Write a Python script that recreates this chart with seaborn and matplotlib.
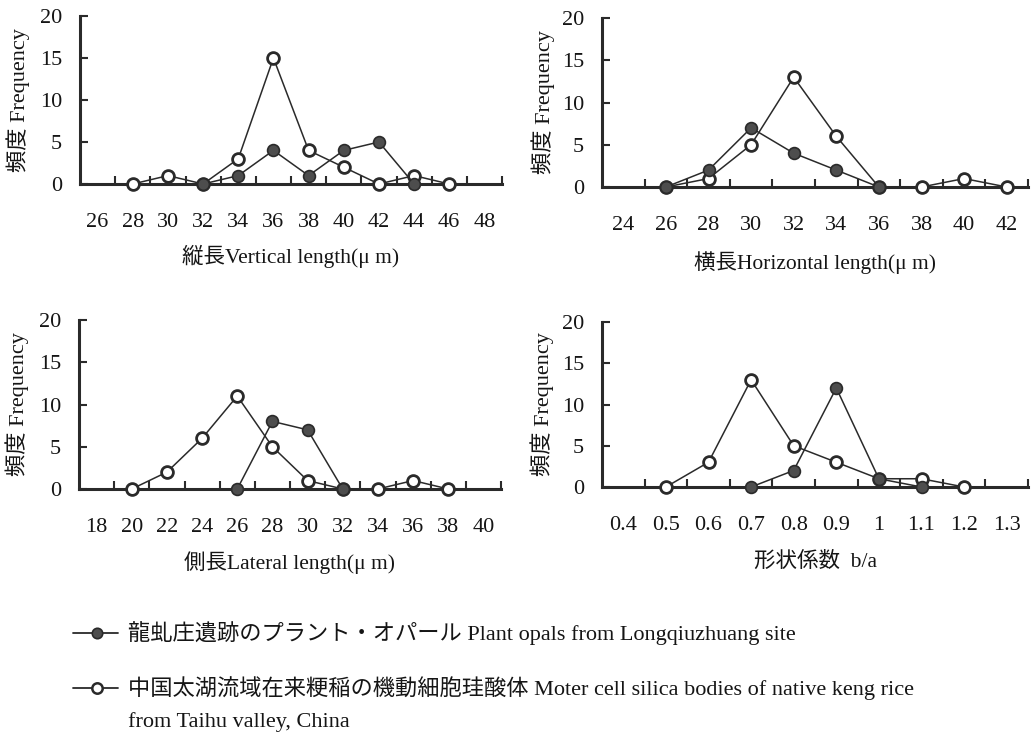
import matplotlib
matplotlib.use("Agg")
import matplotlib.pyplot as plt
import seaborn as sns
import pandas as pd
from matplotlib.lines import Line2D

# ---------------- data ----------------
# Panel 1: vertical length (um)
vert_cats = [26, 28, 30, 32, 34, 36, 38, 40, 42, 44, 46, 48]
vert_site_x = [32, 34, 36, 38, 40, 42, 44]
vert_site_y = [0, 1, 4, 1, 4, 5, 0]
vert_taihu_x = [28, 30, 32, 34, 36, 38, 40, 42, 44, 46]
vert_taihu_y = [0, 1, 0, 3, 15, 4, 2, 0, 1, 0]

# Panel 2: horizontal length (um)
horiz_cats = [24, 26, 28, 30, 32, 34, 36, 38, 40, 42]
horiz_site_x = [26, 28, 30, 32, 34, 36]
horiz_site_y = [0, 2, 7, 4, 2, 0]
horiz_taihu_x = [26, 28, 30, 32, 34, 36, 38, 40, 42]
horiz_taihu_y = [0, 1, 5, 13, 6, 0, 0, 1, 0]

# Panel 3: lateral length (um)
lat_cats = [18, 20, 22, 24, 26, 28, 30, 32, 34, 36, 38, 40]
lat_site_x = [26, 28, 30, 32]
lat_site_y = [0, 8, 7, 0]
lat_taihu_x = [20, 22, 24, 26, 28, 30, 32, 34, 36, 38]
lat_taihu_y = [0, 2, 6, 11, 5, 1, 0, 0, 1, 0]

# Panel 4: shape coefficient b/a
shape_cats = [0.4, 0.5, 0.6, 0.7, 0.8, 0.9, 1.0, 1.1, 1.2, 1.3]
shape_labels = ["0.4", "0.5", "0.6", "0.7", "0.8", "0.9", "1", "1.1", "1.2", "1.3"]
shape_site_x = [0.7, 0.8, 0.9, 1.0, 1.1]
shape_site_y = [0, 2, 12, 1, 0]
shape_taihu_x = [0.5, 0.6, 0.7, 0.8, 0.9, 1.0, 1.1, 1.2]
shape_taihu_y = [0, 3, 13, 5, 3, 1, 1, 0]

y_ticks = [0, 5, 10, 15, 20]

xlabels = ["縦長Vertical length(μ m)", "横長Horizontal length(μ m)",
           "側長Lateral length(μ m)", "形状係数  b/a"]
ylabel = "頻度 Frequency"
legend_site = "龍虬庄遺跡のプラント・オパール Plant opals from Longqiuzhuang site"
legend_taihu_1 = "中国太湖流域在来粳稲の機動細胞珪酸体 Moter cell silica bodies of native keng rice"
legend_taihu_2 = "from Taihu valley, China"

# ---------------- style ----------------
sns.set_style("white")
FAM = ["Liberation Serif", "Noto Sans CJK JP", "DejaVu Sans"]
plt.rcParams["font.family"] = FAM
plt.rcParams["axes.unicode_minus"] = False

W, H = 1035, 737
fig = plt.figure(figsize=(W / 100, H / 100), dpi=100)
fig.patch.set_facecolor("white")

INK = "#2a2a2a"
FILL = "#4d4d4d"
TXT = "#151515"
TICKFS = 16
LABFS = 15.5


def px_axes(left, right, top, bottom):
    return fig.add_axes([left / W, 1 - bottom / H, (right - left) / W, (bottom - top) / H])


panels = [
    # cats, labels, site_x, site_y, taihu_x, taihu_y, box(l,r,t,b), xlabel_y, ylabel_x
    (vert_cats, [str(c) for c in vert_cats], vert_site_x, vert_site_y, vert_taihu_x, vert_taihu_y,
     (80, 502, 16, 184), 256, 18),
    (horiz_cats, [str(c) for c in horiz_cats], horiz_site_x, horiz_site_y, horiz_taihu_x, horiz_taihu_y,
     (602, 1028, 18, 187), 263, 543),
    (lat_cats, [str(c) for c in lat_cats], lat_site_x, lat_site_y, lat_taihu_x, lat_taihu_y,
     (79, 501, 320, 489), 563, 17),
    (shape_cats, shape_labels, shape_site_x, shape_site_y, shape_taihu_x, shape_taihu_y,
     (602, 1028, 322, 487), 562, 542),
]

for i, (cats, labs, sx, sy, tx, ty, box, xl_y, yl_x) in enumerate(panels):
    l, r, t, b = box
    ax = px_axes(l, r, t, b)
    step = cats[1] - cats[0]

    df_t = pd.DataFrame({"x": tx, "y": ty})
    df_s = pd.DataFrame({"x": sx, "y": sy})
    sns.lineplot(data=df_t, x="x", y="y", ax=ax, color=INK, linewidth=1.1,
                 marker="o", markersize=8.5, markerfacecolor="white",
                 markeredgecolor=INK, markeredgewidth=2.0, clip_on=False, zorder=5)
    sns.lineplot(data=df_s, x="x", y="y", ax=ax, color=INK, linewidth=1.1,
                 marker="o", markersize=8.5, markerfacecolor=FILL,
                 markeredgecolor=INK, markeredgewidth=1.2, clip_on=False, zorder=6)

    ax.set_xlim(cats[0] - step / 2, cats[-1] + step / 2)
    ax.set_ylim(0, 20)
    ax.set_xticks(cats)
    ax.set_xticklabels(labs, fontsize=TICKFS)
    ax.set_xticks([c + step / 2 for c in cats], minor=True)
    ax.set_yticks(y_ticks)
    ax.set_yticklabels([str(v) for v in y_ticks], fontsize=TICKFS)
    ax.tick_params(axis="x", which="major", length=0, pad=21, colors=TXT)
    ax.tick_params(axis="x", which="minor", direction="in", length=6, width=1.5,
                   bottom=True, color=INK)
    ax.tick_params(axis="y", which="major", direction="in", length=6, width=1.5,
                   left=True, pad=13, color=INK, labelcolor=TXT)
    for side in ["top", "right"]:
        ax.spines[side].set_visible(False)
    for side in ["left", "bottom"]:
        ax.spines[side].set_linewidth(2.2)
        ax.spines[side].set_color(INK)
    ax.set_xlabel("")
    ax.set_ylabel("")
    ax.grid(False)

    fig.text(((l + r) / 2) / W, 1 - xl_y / H, xlabels[i], ha="center", va="center",
             fontsize=LABFS, color=TXT, family=FAM)
    fig.text(yl_x / W, 1 - ((t + b) / 2) / H, ylabel, ha="center", va="center",
             rotation=90, fontsize=16, color=TXT, family=FAM)

# ---------------- legend (figure-level) ----------------
LEGFS = 16
def legend_entry(y_px, filled, text):
    yf = 1 - y_px / H
    fig.add_artist(Line2D([73 / W, 118 / W], [yf, yf], transform=fig.transFigure,
                          color=INK, linewidth=1.3))
    fig.add_artist(Line2D([97 / W], [yf], transform=fig.transFigure, linestyle="none",
                          marker="o", markersize=7.5,
                          markerfacecolor=FILL if filled else "white",
                          markeredgecolor=INK, markeredgewidth=1.2 if filled else 1.8))
    fig.text(128 / W, yf, text, ha="left", va="center", fontsize=LEGFS,
             color=TXT, family=FAM)

legend_entry(633, True, legend_site)
legend_entry(688, False, legend_taihu_1)
fig.text(128 / W, 1 - 722 / H, legend_taihu_2, ha="left", va="center", fontsize=LEGFS,
         color=TXT, family=FAM)

fig.savefig("out.png", dpi=100, facecolor="white")
